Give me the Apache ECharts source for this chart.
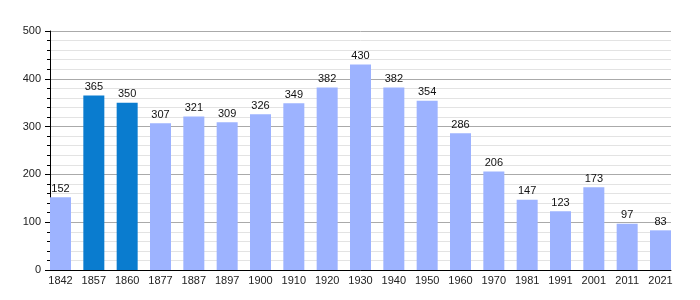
<!DOCTYPE html>
<html><head><meta charset="utf-8">
<script src="https://cdn.jsdelivr.net/npm/echarts@6/dist/echarts.min.js"></script>
<style>html,body{margin:0;padding:0;background:#fff}#c{width:700px;height:300px}</style>
</head><body><div id="c"></div>
<script>
const years = ['1842','1857','1860','1877','1887','1897','1900','1910','1920','1930','1940','1950','1960','1970','1981','1991','2001','2011','2021'];
const population = [152,365,350,307,321,309,326,349,382,430,382,354,286,206,147,123,173,97,83];
const highlighted = ['1857','1860'];
const yTicks = [0,100,200,300,400,500];

const light = '#9db3ff', dark = '#0a7ccf';
const chart = echarts.init(document.getElementById('c'), null, {renderer:'canvas'});
const idx = years.map((_, i) => i);
chart.setOption({
  animation:false,
  textStyle:{fontFamily:'Liberation Sans, Arial, sans-serif'},
  grid:{left:50, right:29, top:31, bottom:30, containLabel:false},
  xAxis:{
    type:'value', min:-0.315, max:18.315,
    axisLine:{show:true, onZero:false, lineStyle:{color:'#000', width:1}},
    axisTick:{show:false},
    splitLine:{show:false},
    axisLabel:{customValues:idx, formatter:v => years[Math.round(v)], color:'#222', fontSize:11, margin:5, hideOverlap:false, showMinLabel:true, showMaxLabel:true}
  },
  yAxis:{
    type:'value', min:yTicks[0], max:yTicks[yTicks.length-1], interval:100,
    axisLine:{show:true, onZero:false, lineStyle:{color:'#000', width:1}},
    axisTick:{show:true, length:5, lineStyle:{color:'#000'}},
    minorTick:{show:true, splitNumber:5, length:3, lineStyle:{color:'#000'}},
    splitLine:{show:true, lineStyle:{color:'#aaaaaa', width:1}},
    minorSplitLine:{show:true, lineStyle:{color:'#e3e3e3', width:1}},
    axisLabel:{color:'#222', fontSize:11, margin:9}
  },
  series:[{
    type:'bar', barWidth:21,
    data: population.map((v,i) => ({value:[i, v], itemStyle:{color: highlighted.includes(years[i]) ? dark : light}})),
    label:{show:true, position:'top', distance:3, color:'#111', fontSize:11, formatter:p => p.value[1]},
    z:3
  }]
});
</script></body></html>
